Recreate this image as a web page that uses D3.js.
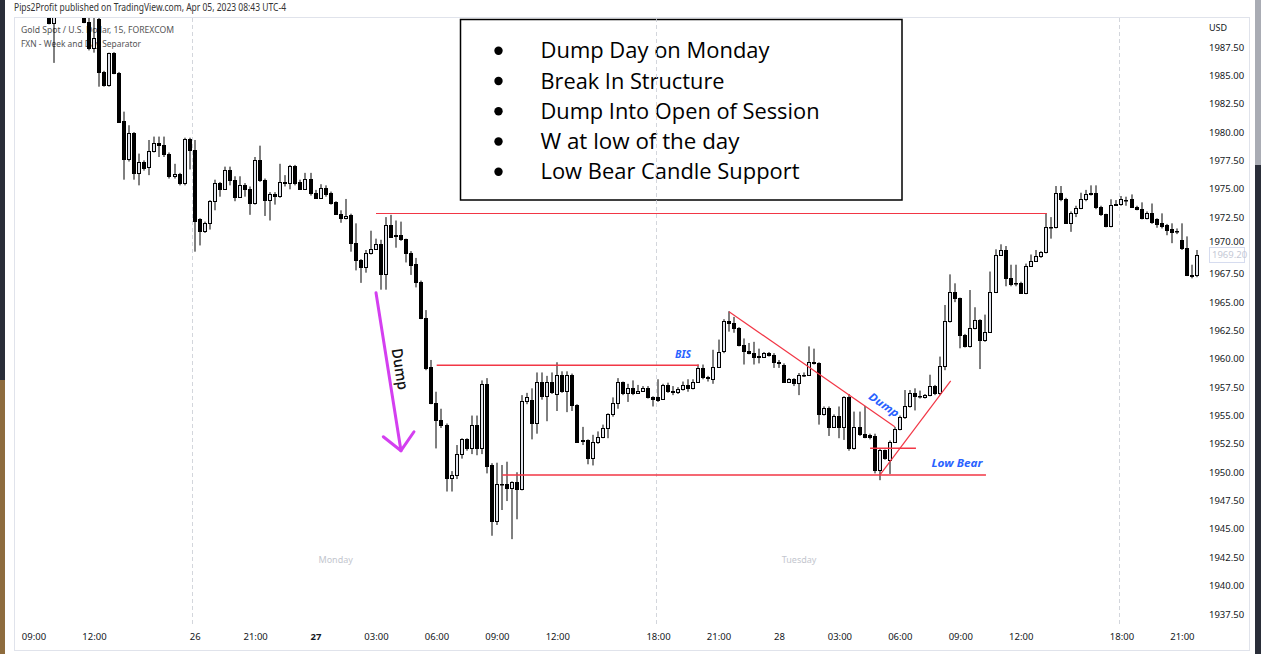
<!DOCTYPE html>
<html><head><meta charset="utf-8">
<script src="https://cdn.jsdelivr.net/npm/d3@7"></script>
<style>body{margin:0;background:#fff;overflow:hidden}svg{display:block}</style>
</head><body>
<svg id="c" width="1261" height="654"></svg>
<script>
// ---------- DATA (15-min candles, index 0 = Fri 09:00) ----------
const openP = [1992.0,1991.5,1991.8,1990.6,1989.6,1990.5,1991.2,1991.5,1991.8,1991.1,
1990.4,1989.7,1987.4,1990.0,1985.3,1984.15,1986.95,1985.2,1981.0,1977.6,
1979.9,1976.4,1977.4,1976.95,1978.35,1979.0,1978.85,1978.1,1976.1,1976.3,
1975.5,1979.4,1978.4,1972.3,1971.3,1972.0,1973.9,1975.5,1974.95,1976.65,
1975.8,1974.3,1975.3,1974.95,1973.7,1977.5,1975.8,1974.0,1974.5,1974.35,
1975.6,1975.5,1977.0,1975.6,1975.0,1975.9,1974.65,1974.2,1975.05,1974.6,
1973.8,1972.8,1972.4,1972.7,1970.2,1968.7,1968.1,1969.3,1969.7,1970.1,
1967.5,1971.8,1970.95,1970.9,1970.6,1969.35,1968.35,1966.8,1963.6,1959.25,
1956.1,1954.65,1954.15,1949.45,1949.75,1951.6,1952.9,1952.1,1954.2,1952.1,
1957.8,1950.6,1945.7,1949.0,1949.0,1948.6,1949.17,1948.5,1956.3,1956.4,
1954.3,1958.0,1956.7,1958.0,1956.9,1958.6,1957.2,1958.6,1955.9,1952.75,
1952.85,1951.3,1952.7,1953.15,1953.9,1955.1,1956.1,1957.95,1956.95,1957.4,
1957.0,1957.2,1957.45,1956.6,1956.6,1956.5,1957.7,1957.2,1957.05,1957.3,
1957.7,1957.4,1958.0,1959.2,1958.4,1958.2,1959.3,1960.7,1963.3,1963.2,
1962.7,1961.2,1960.7,1960.5,1960.25,1960.2,1960.5,1960.3,1959.75,1959.5,
1958.0,1958.2,1957.85,1958.6,1958.6,1959.75,1959.6,1955.15,1955.7,1954.0,
1954.95,1954.0,1956.6,1952.1,1953.95,1953.4,1953.3,1953.2,1950.2,1951.95,
1951.1,1952.7,1953.8,1954.85,1955.85,1956.95,1956.75,1956.6,1956.8,1957.6,
1956.95,1959.4,1963.3,1965.9,1965.35,1962.1,1961.1,1962.7,1963.45,1961.65,
1962.4,1965.9,1969.2,1969.6,1967.15,1966.65,1966.7,1965.85,1968.2,1968.65,
1969.05,1969.4,1971.65,1971.65,1974.6,1974.07,1972.0,1972.9,1973.3,1974.07,
1974.6,1974.6,1973.4,1972.75,1971.7,1973.6,1973.65,1974.0,1974.07,1973.4,
1973.2,1972.45,1972.83,1972.3,1972.0,1971.8,1971.45,1971.25,1970.5,1969.75,
1967.4,1967.4];
const highP = [1992.8,1992.4,1992.2,1991.0,1990.6,1991.6,1992.0,1992.3,1992.0,1991.5,
1990.8,1990.5,1990.5,1990.5,1985.4,1987.0,1987.05,1985.3,1981.8,1980.6,
1980.0,1978.1,1977.5,1979.3,1979.6,1979.6,1979.6,1978.2,1977.2,1976.4,
1979.5,1979.5,1979.3,1972.4,1972.1,1974.0,1975.8,1975.6,1976.95,1976.95,
1976.1,1976.1,1975.5,1975.2,1977.8,1978.8,1975.9,1974.7,1974.7,1977.2,
1976.2,1977.1,1977.1,1975.8,1976.4,1976.4,1974.9,1975.4,1975.3,1974.75,
1973.9,1973.1,1974.1,1972.8,1971.95,1968.8,1969.6,1971.3,1970.6,1970.5,
1972.5,1972.7,1972.2,1972.1,1970.6,1969.5,1968.9,1966.9,1964.3,1959.9,
1957.1,1955.6,1954.3,1950.1,1952.4,1953.0,1953.0,1955.0,1955.0,1958.1,
1958.3,1950.8,1950.84,1950.64,1950.93,1949.2,1950.0,1956.8,1957.0,1957.4,
1958.8,1958.8,1958.5,1958.8,1959.7,1958.9,1958.9,1958.7,1956.0,1954.0,
1952.9,1953.3,1953.6,1954.2,1955.2,1956.6,1958.3,1958.0,1957.8,1958.1,
1957.7,1957.6,1957.6,1956.7,1958.2,1957.8,1957.9,1957.6,1957.5,1958.0,
1958.2,1958.2,1959.5,1959.5,1958.5,1960.8,1961.7,1963.5,1964.2,1963.7,
1962.8,1961.8,1961.4,1961.5,1960.9,1960.6,1960.6,1960.5,1959.9,1959.6,
1958.3,1958.3,1958.75,1958.8,1961.1,1960.9,1959.7,1955.8,1955.8,1955.1,
1955.8,1956.7,1956.9,1955.35,1955.35,1955.85,1953.4,1953.4,1952.1,1952.0,
1952.8,1954.0,1955.0,1957.25,1957.25,1957.4,1957.2,1956.9,1958.6,1957.7,
1960.2,1964.75,1967.45,1966.66,1965.4,1962.2,1966.07,1964.55,1963.5,1963.9,
1967.7,1969.66,1970.1,1969.95,1968.3,1968.3,1966.8,1968.4,1969.2,1969.6,
1969.5,1972.83,1972.5,1975.24,1975.24,1974.2,1973.0,1973.5,1974.65,1974.9,
1975.3,1975.3,1973.5,1972.8,1974.07,1974.0,1974.36,1974.3,1974.5,1973.5,
1973.8,1973.0,1973.7,1972.4,1972.83,1971.9,1971.95,1971.5,1971.95,1970.8,
1968.3,1969.6];
const lowP = [1991.2,1990.9,1990.8,1989.5,1986.1,1990.4,1990.8,1991.0,1990.9,1990.4,
1989.6,1987.2,1987.0,1984.0,1984.0,1984.0,1985.1,1980.8,1975.8,1977.4,
1975.8,1975.3,1976.6,1976.2,1978.2,1977.8,1977.8,1975.9,1975.9,1975.3,
1975.3,1976.7,1969.45,1970.0,1971.1,1971.4,1973.1,1974.3,1974.9,1975.3,
1973.9,1974.2,1974.3,1972.7,1973.6,1975.6,1972.6,1972.2,1973.6,1974.2,
1975.2,1974.95,1975.3,1974.9,1974.9,1974.4,1974.1,1974.1,1974.3,1973.6,
1972.7,1972.0,1972.3,1969.45,1967.8,1966.7,1967.6,1969.2,1969.6,1966.1,
1966.1,1970.7,1969.8,1970.4,1968.5,1967.4,1966.3,1963.5,1959.0,1956.0,
1952.1,1953.9,1948.3,1948.3,1949.4,1951.2,1951.9,1951.6,1951.5,1951.6,
1949.9,1944.4,1945.35,1946.67,1947.46,1944.1,1945.85,1948.4,1956.0,1952.9,
1953.4,1956.4,1954.5,1956.9,1955.4,1957.0,1955.3,1955.4,1952.6,1952.4,
1950.7,1950.6,1952.5,1953.0,1953.0,1954.9,1955.6,1956.8,1956.2,1956.8,
1956.9,1957.1,1956.5,1955.8,1956.2,1956.4,1957.0,1956.8,1956.9,1957.2,
1957.1,1957.3,1957.9,1958.2,1958.0,1957.8,1959.2,1960.5,1962.4,1962.3,
1961.1,1959.5,1960.4,1959.5,1959.6,1960.1,1960.2,1959.2,1959.2,1957.9,
1957.9,1957.6,1956.8,1958.4,1958.5,1959.5,1954.2,1955.0,1953.2,1953.9,
1953.0,1952.85,1951.9,1952.0,1953.2,1953.0,1952.9,1949.9,1949.3,1951.1,
1949.85,1952.6,1953.7,1954.7,1955.7,1955.45,1956.5,1956.5,1956.7,1956.8,
1956.8,1959.0,1963.2,1965.0,1960.93,1961.0,1961.0,1962.6,1959.1,1961.5,
1962.3,1965.8,1969.1,1966.4,1966.4,1966.4,1965.8,1965.7,1968.1,1968.6,
1968.9,1969.3,1970.6,1971.5,1973.9,1971.9,1971.2,1972.5,1973.2,1973.9,
1974.4,1973.2,1972.6,1971.6,1971.6,1973.5,1973.5,1973.5,1973.3,1973.1,
1972.3,1972.3,1971.9,1971.56,1971.5,1970.9,1970.2,1971.0,1969.6,1967.3,
1967.1,1967.2];
const closeP = [1991.5,1991.8,1991.0,1989.6,1990.3,1991.2,1991.5,1991.8,1991.1,1990.6,
1989.7,1987.4,1988.3,1985.3,1984.15,1986.95,1985.2,1980.9,1977.6,1979.9,
1976.4,1977.4,1976.8,1978.35,1979.0,1978.9,1978.05,1976.1,1976.3,1975.5,
1979.4,1978.4,1972.2,1971.3,1972.0,1973.9,1975.5,1974.95,1976.65,1975.8,
1974.3,1975.3,1974.95,1973.7,1977.5,1975.8,1974.0,1974.5,1974.35,1975.6,
1975.5,1977.0,1975.5,1975.0,1975.9,1974.6,1974.2,1975.05,1974.55,1973.7,
1972.8,1972.4,1972.6,1970.2,1968.7,1968.1,1969.3,1969.7,1970.1,1967.5,
1971.8,1970.75,1970.85,1970.6,1969.35,1968.3,1966.8,1963.6,1959.2,1956.1,
1954.65,1954.15,1949.45,1949.75,1951.6,1952.9,1952.1,1954.2,1952.1,1957.8,
1950.55,1945.7,1949.0,1948.95,1948.6,1949.17,1948.5,1956.3,1956.6,1954.3,
1958.0,1956.7,1958.0,1957.1,1958.6,1957.2,1958.6,1955.9,1952.7,1952.85,
1951.3,1952.7,1953.15,1953.9,1955.1,1956.1,1957.95,1956.95,1957.4,1957.0,
1957.2,1957.45,1956.6,1956.5,1956.4,1957.7,1957.2,1957.05,1957.3,1957.7,
1957.4,1958.0,1959.2,1958.4,1958.3,1959.3,1960.6,1963.3,1963.2,1962.7,
1961.2,1960.7,1960.5,1960.2,1960.2,1960.5,1960.3,1959.75,1959.6,1958.0,
1958.2,1957.85,1958.6,1958.55,1959.75,1959.6,1955.15,1955.7,1954.0,1954.95,
1954.0,1956.6,1952.1,1953.95,1953.4,1953.1,1953.1,1950.2,1951.95,1951.25,
1952.7,1953.8,1954.85,1955.85,1956.95,1956.7,1956.7,1956.8,1957.6,1956.95,
1959.4,1963.3,1965.9,1965.35,1962.1,1961.1,1962.7,1963.45,1961.65,1962.4,
1965.9,1969.2,1969.6,1967.1,1966.6,1966.7,1965.85,1968.2,1968.65,1969.05,
1969.4,1971.6,1971.6,1974.6,1974.07,1972.0,1972.9,1973.3,1974.07,1974.54,
1974.5,1973.4,1972.75,1971.7,1973.57,1973.65,1974.07,1974.0,1973.4,1973.2,
1972.4,1972.83,1972.1,1971.9,1971.7,1971.35,1971.2,1971.3,1969.75,1967.4,
1967.35,1969.2];

const xTickIdx = [0,12,32,44,56,68,80,92,104,124,136,148,160,172,184,196,216,228];
const xTickLabels = ["09:00","12:00","26","21:00","27","03:00","06:00","09:00","12:00","18:00","21:00","28","03:00","06:00","09:00","12:00","18:00","21:00"];
const yTickValues = [1937.5,1940,1942.5,1945,1947.5,1950,1952.5,1955,1957.5,1960,1962.5,1965,1967.5,1970,1972.5,1975,1977.5,1980,1982.5,1985,1987.5];
const sessionBreaks = [31.5,123.5,215.5];
const dayLabels = [{i:60,t:"Monday"},{i:152,t:"Tuesday"}];
const lastPrice = 1969.20;

// annotations in data coordinates (index, price)
const hLines = [{a:68,b:201.2,p:1972.83,w:1},{a:80.05,b:132.1,p:1959.43,w:1.4},{a:93.07,b:189.1,p:1949.76,w:1.4},{a:166.1,b:175.2,p:1952.11,w:1.4}];
const trendLines = [[[138.1,1964.16],[171.0,1954.02]],[[168.06,1949.76],[182.1,1958.05]]];
const arrowShaft = [[68.0,1965.83],[72.96,1951.9]];
const arrowHead = [[69.45,1953.13],[72.96,1951.9],[75.54,1953.57]];
const blueLabels = [{i:128.95,p:1960.43,t:"BIS",rot:0,len:16},{i:183.35,p:1950.82,t:"Low Bear",rot:0,len:51},{i:168.85,p:1955.95,t:"Dump",rot:35,len:34}];
const noteLines = ["Dump Day on Monday","Break In Structure","Dump Into Open of Session","W at low of the day","Low Bear Candle Support"];
const noteWidths = [229,184,279,199,259];

// ---------- DRAW ----------
const svg = d3.select("#c");
const x = d3.scaleLinear().domain([0,231]).range([33.5,1197.0]);
const y = d3.scaleLinear().domain([1937.5,1987.5]).range([614,47]);

// side strips
svg.append("rect").attr("x",0).attr("y",0).attr("width",5).attr("height",380).attr("fill","#2a2e39");
svg.append("rect").attr("x",0).attr("y",380).attr("width",5).attr("height",274).attr("fill","#8e6c3e");
svg.append("rect").attr("x",1255).attr("y",0).attr("width",6).attr("height",165).attr("fill","#a9acb4");
svg.append("rect").attr("x",1255).attr("y",165).attr("width",6).attr("height",489).attr("fill","#2a2e39");

// header
svg.append("text").attr("x",14).attr("y",10.5).attr("font-family","Noto Sans").attr("font-size",10)
  .attr("fill","#333").attr("textLength",272).attr("lengthAdjust","spacingAndGlyphs")
  .text("Pips2Profit published on TradingView.com, Apr 05, 2023 08:43 UTC-4");

// pane frame
svg.append("rect").attr("x",14.5).attr("y",17.5).attr("width",1235).attr("height",633)
  .attr("fill","none").attr("stroke","#e0e3eb");

// legend
svg.append("text").attr("x",21).attr("y",33).attr("font-family","Noto Sans").attr("font-size",9.5)
  .attr("fill","#555").attr("textLength",153).attr("lengthAdjust","spacingAndGlyphs")
  .text("Gold Spot / U.S. Dollar, 15, FOREXCOM");
svg.append("text").attr("x",21).attr("y",47).attr("font-family","Noto Sans").attr("font-size",9.5)
  .attr("fill","#555").attr("textLength",120).attr("lengthAdjust","spacingAndGlyphs")
  .text("FXN - Week and Day Separator");

// note box
const box = svg.append("g");
box.append("rect").attr("x",460.5).attr("y",19.5).attr("width",441.5).attr("height",180.5)
  .attr("fill","#fff").attr("stroke","#000").attr("stroke-width",1.5);
noteLines.forEach((t,k)=>{
  const cy = 50.7 + k*30.25;
  box.append("circle").attr("cx",498.5).attr("cy",cy).attr("r",4.2).attr("fill","#000");
  box.append("text").attr("x",540.5).attr("y",cy).attr("dy","0.36em").attr("font-family","Open Sans")
    .attr("font-size",21).attr("fill","#000").attr("textLength",noteWidths[k]).attr("lengthAdjust","spacingAndGlyphs").text(t);
});

// separators
svg.append("g").selectAll("line").data(sessionBreaks).join("line")
  .attr("x1",d=>Math.round(x(d))+0.5).attr("x2",d=>Math.round(x(d))+0.5).attr("y1",18).attr("y2",626)
  .attr("stroke","#c9ccd4").attr("stroke-dasharray","4,3").attr("stroke-width",1).attr("opacity",0.8);

// day labels
svg.append("g").selectAll("text").data(dayLabels).join("text")
  .attr("x",d=>x(d.i)).attr("y",563).attr("text-anchor","middle").attr("font-family","Noto Sans")
  .attr("font-size",9).attr("fill","#c3c6ce").text(d=>d.t);

// candles
svg.append("clipPath").attr("id","pane").append("rect").attr("x",15).attr("y",18).attr("width",1188).attr("height",608);
const cg = svg.append("g").attr("clip-path","url(#pane)");
const idx = d3.range(openP.length);
const px = i => Math.round(x(i));
cg.append("g").selectAll("line").data(idx).join("line")
  .attr("x1",i=>px(i)).attr("x2",i=>px(i))
  .attr("y1",i=>y(highP[i])).attr("y2",i=>y(lowP[i]))
  .attr("stroke","#000").attr("stroke-width",1);
cg.append("g").selectAll("rect").data(idx).join("rect")
  .attr("x",i=>px(i)-1.5).attr("width",3)
  .attr("y",i=>{const t=Math.round(y(Math.max(openP[i],closeP[i]))); return t+0.5;})
  .attr("height",i=>{const t=Math.round(y(Math.max(openP[i],closeP[i]))), b=Math.round(y(Math.min(openP[i],closeP[i]))); return Math.max(b-t,0.5);})
  .attr("fill",i=>closeP[i]>=openP[i]?"#e1e4ec":"#000").attr("stroke","#000").attr("stroke-width",1);

// annotation lines
const red = "#f23645";
const ag = svg.append("g");
ag.selectAll("line.h").data(hLines).join("line").attr("class","h")
  .attr("x1",d=>x(d.a)).attr("x2",d=>x(d.b))
  .attr("y1",d=>d.w===1?Math.round(y(d.p))+0.5:y(d.p)).attr("y2",d=>d.w===1?Math.round(y(d.p))+0.5:y(d.p))
  .attr("stroke",red).attr("stroke-width",d=>d.w);
const lineGen = d3.line().x(d=>x(d[0])).y(d=>y(d[1]));
ag.selectAll("path.t").data(trendLines).join("path").attr("class","t")
  .attr("d",lineGen).attr("stroke",red).attr("stroke-width",1.2).attr("fill","none");
ag.append("path").attr("d",lineGen(arrowShaft)).attr("stroke","#d43ff0").attr("stroke-width",3).attr("fill","none").attr("stroke-linecap","round");
ag.append("path").attr("d",lineGen(arrowHead)).attr("stroke","#d43ff0").attr("stroke-width",3).attr("fill","none").attr("stroke-linecap","round").attr("stroke-linejoin","round");

// texts
ag.append("text").attr("transform",`translate(${x(72.76)},${y(1959.1)}) rotate(81)`)
  .attr("text-anchor","middle").attr("dy","0.35em").attr("font-family","Open Sans").attr("font-weight",600)
  .attr("font-size",15).attr("fill","#111").attr("textLength",42).attr("lengthAdjust","spacingAndGlyphs").text("Dump");
ag.selectAll("text.b").data(blueLabels).join("text").attr("class","b")
  .attr("transform",d=>`translate(${x(d.i)},${y(d.p)}) rotate(${d.rot})`)
  .attr("text-anchor","middle").attr("dy","0.35em").attr("font-family","Noto Sans").attr("font-style","italic").attr("font-weight",700)
  .attr("font-size",11).attr("fill","#2962ff").attr("textLength",d=>d.len).attr("lengthAdjust","spacingAndGlyphs").text(d=>d.t);

// y axis
const yAxis = svg.append("g").attr("transform","translate(1209,0)")
  .call(d3.axisRight(y).tickValues(yTickValues).tickSize(0).tickPadding(0).tickFormat(d3.format(".2f")));
yAxis.select(".domain").remove();
yAxis.selectAll("text").attr("font-family","Noto Sans").attr("font-size",9.5).attr("fill","#131722");
// last price box
const lp = svg.append("g");
lp.append("rect").attr("x",1209.5).attr("y",Math.round(y(lastPrice))-7.5).attr("width",35).attr("height",15)
  .attr("fill","#fff").attr("stroke","#d6dcef");
lp.append("text").attr("x",1212).attr("y",y(lastPrice)).attr("dy","0.35em").attr("font-family","Noto Sans")
  .attr("font-size",9.5).attr("fill","#c5c9d6").text(d3.format(".2f")(lastPrice));
yAxis.raise();
yAxis.selectAll(".tick").filter(d=>d===1970).select("text").attr("dy","-0.05em");
svg.append("text").attr("x",1209).attr("y",31).attr("font-family","Noto Sans").attr("font-size",9).attr("fill","#131722").text("USD");

// x axis
const xAxis = svg.append("g").attr("transform","translate(0,633)")
  .call(d3.axisBottom(x).tickValues(xTickIdx).tickSize(0).tickPadding(0).tickFormat((d,k)=>xTickLabels[k]));
xAxis.select(".domain").remove();
xAxis.selectAll("text").attr("font-family","Noto Sans").attr("font-size",9.5).attr("fill","#131722")
  .attr("font-weight",(d,k)=>xTickLabels[k]==="27"?700:400);
</script>
</body></html>
